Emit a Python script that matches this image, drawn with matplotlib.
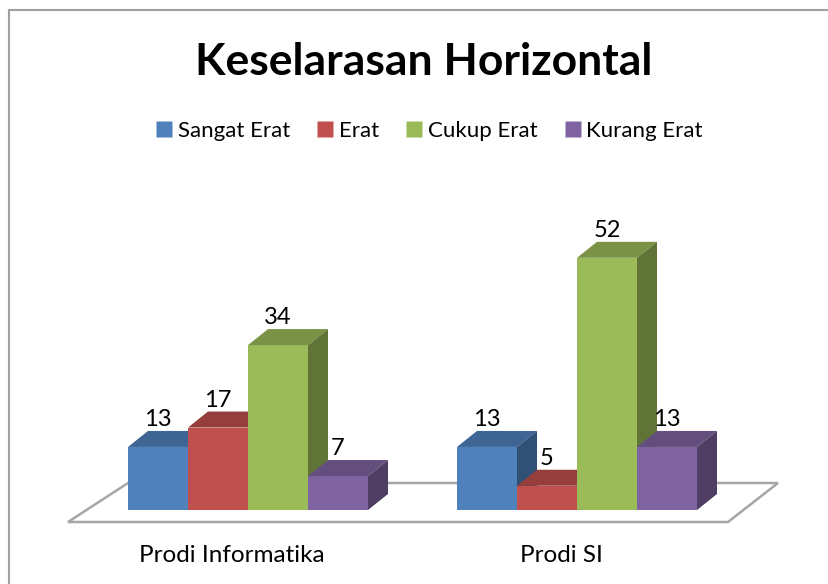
import matplotlib
matplotlib.use('Agg')
import matplotlib.pyplot as plt
from matplotlib.patches import Polygon, Rectangle
from matplotlib.lines import Line2D
from matplotlib.colors import to_rgb

categories = ['Prodi Informatika', 'Prodi SI']
series = ['Sangat Erat', 'Erat', 'Cukup Erat', 'Kurang Erat']
sangat_erat = [13, 13]
erat = [17, 5]
cukup_erat = [34, 52]
kurang_erat = [7, 13]
colors = ['#4F81BD', '#C0504D', '#9BBB59', '#8064A2']

plt.rcParams['font.family'] = ['Lato', 'DejaVu Sans']

W, H = 829, 584
PX = 4.85          # pixels per value unit
BASE = 510         # pixel row of value 0
BAR_W = 60
DX, DY = 20, 16 / PX   # depth offset (x px, y in value units)
group_left = [128, 457]


def shade(c, f):
    r, g, b = to_rgb(c)
    return (r * f, g * f, b * f)


fig = plt.figure(figsize=(W / 100, H / 100), dpi=100)
ax = fig.add_axes([0, 0, 1, 1])
ax.set_xlim(0, W)
ax.set_ylim(-(H - BASE) / PX, BASE / PX)
ax.axis('off')

# chart border
fig.patches.append(Rectangle((9 / W, -0.1), 1.2, (H - 10) / H + 0.1,
                             transform=fig.transFigure, fill=False,
                             edgecolor='#A0A0A0', linewidth=1.5))

# floor
f_front = -12 / PX
f_back = 27 / PX
floor = Polygon([(68, f_front), (728, f_front), (778, f_back), (128, f_back)],
                closed=True, facecolor='white', edgecolor='#A6A6A6',
                linewidth=1.8, zorder=1)
ax.add_patch(floor)

values = [sangat_erat, erat, cukup_erat, kurang_erat]
for g, cat in enumerate(categories):
    for s in range(len(series)):
        v = values[s][g]
        x0 = group_left[g] + s * BAR_W
        x1 = x0 + BAR_W
        c = colors[s]
        z = 2 + s
        ax.add_patch(Polygon([(x0, 0), (x1, 0), (x1, v), (x0, v)],
                             facecolor=c, edgecolor='none', zorder=z))
        ax.add_patch(Polygon([(x0, v), (x1, v), (x1 + DX, v + DY), (x0 + DX, v + DY)],
                             facecolor=shade(c, 0.78), edgecolor='none', zorder=z))
        ax.add_patch(Polygon([(x1, 0), (x1 + DX, DY), (x1 + DX, v + DY), (x1, v)],
                             facecolor=shade(c, 0.62), edgecolor='none', zorder=z))
        ax.text(x0 + BAR_W / 2, v + DY + 0.2, str(v), ha='center', va='bottom',
                fontsize=17, color='black', zorder=10)
    ax.text(group_left[g] + 2 * BAR_W - 16, -45 / PX, cat, ha='center',
            va='center', fontsize=17.5, color='black')

fig.text(424 / W, 1 - 62 / H, 'Keselarasan Horizontal', ha='center',
         va='center', fontsize=32, fontweight='bold', color='black')

handles = [Line2D([], [], linestyle='none', marker='s', markersize=11,
                  markerfacecolor=c, markeredgecolor='none') for c in colors]
fig.legend(handles, series, loc='center', bbox_to_anchor=(428 / W, 1 - 131 / H),
           ncol=4, frameon=False, fontsize=16, handletextpad=0.1,
           columnspacing=1.1, handlelength=1.0)

fig.savefig('out.png', dpi=100)
